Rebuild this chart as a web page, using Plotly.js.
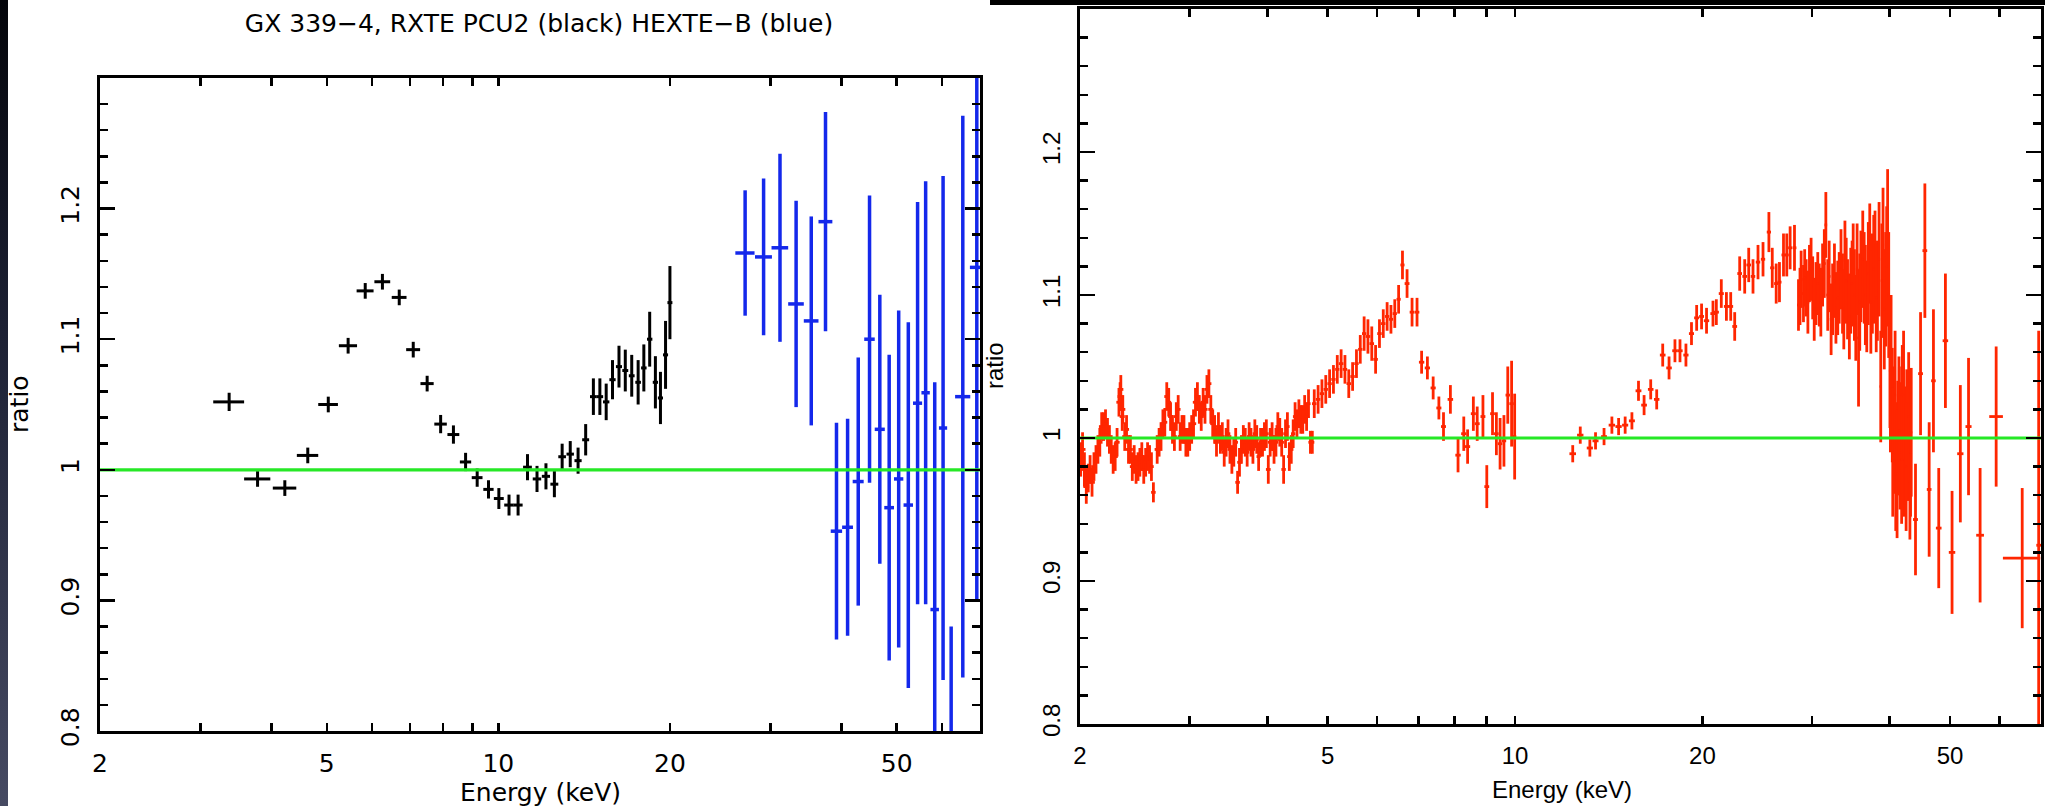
<!DOCTYPE html>
<html><head><meta charset="utf-8">
<script src="https://cdn.plot.ly/plotly-3.0.1.min.js"></script>
<style>
html,body{margin:0;padding:0;background:#fff;width:2045px;height:806px;overflow:hidden;position:relative}
#strip{position:absolute;left:0;top:0;width:8px;height:806px;background:linear-gradient(#04050a,#1c2033 40%,#464a62)}
#topbar{position:absolute;left:990px;top:0;width:1055px;height:5px;background:#000}
#chart{position:absolute;left:0;top:0;width:2045px;height:806px}
</style></head>
<body><div id="strip"></div><div id="topbar"></div><div id="chart"></div>
<script>
// ---- Left panel: RXTE PCU2 (black) ----
const pcuE = [3.37,3.78,4.22,4.63,5.03,5.45,5.84,6.26,6.70,7.09,
  7.50,7.92,8.34,8.76,9.18,9.61,10.02,10.44,10.83,11.25,
  11.69,12.12,12.54,12.94,13.37,13.80,14.23,14.68,15.07,15.46,
  15.86,16.28,16.70,17.14,17.59,18.00,18.43,18.86,19.25,19.65,
  20.00];
const pcuR = [1.052,0.993,0.986,1.011,1.050,1.095,1.137,1.144,1.132,1.092,
  1.066,1.035,1.027,1.006,0.994,0.985,0.978,0.973,0.973,1.002,
  0.993,0.995,0.989,1.010,1.012,1.007,1.023,1.056,1.056,1.052,
  1.069,1.079,1.076,1.072,1.067,1.078,1.100,1.067,1.055,1.088,
  1.128];
const pcuErr = [0.007,0.006,0.006,0.006,0.006,0.006,0.006,0.006,0.006,0.006,
  0.006,0.007,0.007,0.007,0.007,0.007,0.008,0.008,0.008,0.010,
  0.010,0.010,0.010,0.010,0.010,0.010,0.012,0.014,0.014,0.014,
  0.015,0.016,0.016,0.016,0.017,0.018,0.021,0.020,0.020,0.026,
  0.028];
const pcuXerr = [0.21,0.2,0.2,0.2,0.2,0.2,0.2,0.2,0.2,0.2,
  0.2,0.2,0.2,0.2,0.2,0.2,0.2,0.2,0.2,0.2,
  0.2,0.2,0.2,0.2,0.2,0.2,0.2,0.2,0.2,0.2,
  0.2,0.2,0.2,0.2,0.2,0.2,0.2,0.2,0.2,0.2,
  0.2];

// ---- Left panel: HEXTE-B (blue) ----
const hexE = [27.1,29.2,31.2,33.3,35.4,37.5,39.2,41.0,42.8,44.8,
  46.7,48.5,50.4,52.4,54.4,56.2,58.3,60.3,62.3,65.3,
  69.1];
const hexR = [1.166,1.163,1.170,1.127,1.114,1.190,0.953,0.956,0.991,1.100,
  1.031,0.971,0.993,0.973,1.051,1.059,0.893,1.032,0.690,1.056,
  1.155];
const hexErr = [0.048,0.060,0.072,0.079,0.080,0.084,0.083,0.083,0.095,0.110,
  0.103,0.117,0.129,0.140,0.154,0.162,0.174,0.193,0.190,0.215,
  0.254];
const hexXerr = [1.05,1.0,1.05,1.05,1.05,1.05,0.9,0.9,0.95,0.95,
  0.95,0.95,0.95,1.0,1.0,0.95,1.0,1.0,1.0,2.0,
  1.9];

// ---- Right panel (red), 2-10 keV ----
const redLoE = [2.005,2.019,2.033,2.047,2.062,2.076,2.091,2.106,2.122,2.137,
  2.152,2.167,2.183,2.198,2.214,2.230,2.245,2.261,2.278,2.294,
  2.310,2.320,2.326,2.338,2.343,2.360,2.376,2.393,2.410,2.427,
  2.444,2.461,2.479,2.496,2.514,2.532,2.550,2.568,2.587,2.605,
  2.624,2.661,2.680,2.699,2.718,2.737,2.757,2.777,2.796,2.816,
  2.836,2.856,2.876,2.897,2.917,2.938,2.959,2.980,3.001,3.023,
  3.044,3.066,3.088,3.110,3.132,3.154,3.176,3.199,3.222,3.245,
  3.268,3.291,3.314,3.338,3.362,3.386,3.410,3.434,3.458,3.483,
  3.508,3.533,3.558,3.583,3.608,3.634,3.660,3.686,3.712,3.739,
  3.765,3.792,3.819,3.846,3.873,3.901,3.929,3.957,3.985,4.014,
  4.042,4.071,4.100,4.129,4.158,4.188,4.218,4.248,4.278,4.308,
  4.339,4.370,4.401,4.432,4.463,4.495,4.527,4.560,4.592,4.625,
  4.658,4.691,4.724,4.758,4.826,4.895,4.965,5.036,5.108,5.181,
  5.255,5.330,5.406,5.483,5.562,5.641,5.722,5.803,5.886,5.970,
  6.056,6.142,6.230,6.319,6.409,6.501,6.594,6.707,6.832,6.959,
  7.078,7.231,7.387,7.545,7.675,7.873,8.099,8.273,8.391,8.571,
  8.694,8.881,9.008,9.201,9.333,9.462,9.598,9.735,9.874,9.986];
const redLoR = [0.985,0.992,0.978,0.966,0.972,0.978,0.969,0.980,0.985,0.992,
  0.997,1.008,1.008,1.010,1.004,0.999,0.992,0.985,0.987,0.997,
  1.025,1.029,1.034,1.015,1.020,1.001,1.006,0.992,0.992,0.980,
  0.985,0.978,0.980,0.983,0.987,0.978,0.983,0.987,0.985,0.980,
  0.962,0.992,0.997,1.001,1.010,1.011,1.029,1.025,1.015,1.006,
  1.001,1.015,1.020,1.001,1.006,1.006,0.997,0.997,1.001,1.006,
  1.010,1.025,1.029,1.020,1.015,1.025,1.020,1.034,1.038,1.020,
  1.010,1.006,0.997,1.008,0.999,1.001,0.990,0.997,1.003,0.992,
  0.985,0.990,0.997,0.969,0.983,0.992,0.999,0.997,0.990,1.001,
  0.997,0.992,1.003,0.999,0.987,0.997,0.997,1.001,1.003,0.978,
  0.997,1.001,0.992,0.997,1.008,1.004,0.997,0.978,1.003,1.008,
  0.987,0.992,1.003,1.015,1.010,1.017,1.013,1.013,1.020,1.015,
  1.024,0.997,0.997,1.024,1.027,1.031,1.034,1.038,1.041,1.048,
  1.052,1.048,1.038,1.043,1.052,1.062,1.073,1.071,1.066,1.055,
  1.073,1.080,1.085,1.083,1.087,1.097,1.121,1.108,1.088,1.088,
  1.053,1.049,1.035,1.021,1.008,1.027,0.988,1.003,0.994,1.017,
  1.010,1.015,0.966,1.017,1.003,0.996,0.998,1.030,1.024,1.001];
const redLoErr = [0.012,0.012,0.012,0.012,0.010,0.010,0.010,0.010,0.010,0.010,
  0.010,0.010,0.010,0.010,0.010,0.010,0.010,0.010,0.010,0.010,
  0.010,0.010,0.010,0.010,0.010,0.010,0.010,0.010,0.010,0.010,
  0.010,0.010,0.010,0.010,0.010,0.010,0.010,0.010,0.010,0.010,
  0.007,0.010,0.010,0.010,0.010,0.010,0.010,0.010,0.010,0.010,
  0.010,0.010,0.010,0.010,0.010,0.010,0.010,0.010,0.010,0.010,
  0.010,0.010,0.010,0.010,0.010,0.010,0.010,0.010,0.010,0.010,
  0.010,0.010,0.010,0.010,0.010,0.010,0.010,0.010,0.010,0.010,
  0.010,0.010,0.010,0.008,0.010,0.010,0.010,0.010,0.010,0.010,
  0.010,0.010,0.010,0.010,0.010,0.010,0.010,0.010,0.010,0.010,
  0.010,0.010,0.010,0.010,0.010,0.010,0.010,0.010,0.010,0.010,
  0.010,0.010,0.010,0.010,0.010,0.010,0.010,0.010,0.010,0.010,
  0.010,0.008,0.008,0.010,0.010,0.010,0.010,0.010,0.010,0.010,
  0.010,0.010,0.010,0.010,0.010,0.010,0.012,0.012,0.012,0.010,
  0.010,0.010,0.010,0.010,0.010,0.010,0.010,0.010,0.010,0.010,
  0.008,0.008,0.008,0.008,0.010,0.010,0.012,0.012,0.012,0.012,
  0.012,0.015,0.015,0.015,0.015,0.018,0.018,0.020,0.030,0.030];
const redLoXerr = [0.022,0.022,0.022,0.022,0.022,0.022,0.022,0.022,0.022,0.022,
  0.022,0.022,0.022,0.022,0.022,0.022,0.022,0.022,0.022,0.022,
  0.022,0.022,0.022,0.022,0.022,0.022,0.022,0.022,0.022,0.022,
  0.022,0.022,0.022,0.022,0.022,0.022,0.022,0.022,0.022,0.022,
  0.022,0.025,0.025,0.025,0.025,0.025,0.025,0.025,0.025,0.025,
  0.025,0.025,0.025,0.025,0.025,0.025,0.025,0.025,0.03,0.03,
  0.03,0.03,0.03,0.03,0.03,0.03,0.03,0.03,0.03,0.03,
  0.03,0.03,0.03,0.03,0.03,0.03,0.03,0.03,0.03,0.03,
  0.03,0.03,0.03,0.03,0.03,0.03,0.03,0.03,0.03,0.03,
  0.03,0.03,0.03,0.03,0.03,0.03,0.03,0.03,0.035,0.035,
  0.035,0.035,0.035,0.035,0.035,0.035,0.035,0.035,0.035,0.035,
  0.035,0.035,0.035,0.035,0.035,0.035,0.035,0.035,0.035,0.035,
  0.035,0.035,0.035,0.04,0.04,0.04,0.04,0.04,0.04,0.04,
  0.045,0.045,0.045,0.045,0.045,0.045,0.045,0.05,0.05,0.05,
  0.05,0.05,0.05,0.05,0.05,0.05,0.05,0.06,0.06,0.06,
  0.07,0.07,0.07,0.07,0.07,0.08,0.08,0.08,0.08,0.08,
  0.08,0.08,0.08,0.08,0.08,0.08,0.08,0.08,0.08,0.06];

// ---- Right panel (red), 12-70 keV ----
const redHiE = [12.38,12.73,13.19,13.47,13.90,14.31,14.67,15.03,15.41,15.79,
  16.12,16.52,16.89,17.27,17.68,18.07,18.41,18.82,19.21,19.58,
  19.94,20.31,20.80,21.06,21.45,21.86,22.21,22.54,22.96,23.39,
  23.74,24.12,24.57,25.03,25.58,25.90,26.28,26.60,27.00,27.33,
  27.67,28.12,28.54,28.82,29.07,29.36,29.72,30.08,30.45,30.82,
  31.20,31.58,31.97,32.38,32.78,33.18,33.59,33.89,34.22,34.63,
  34.94,35.28,35.64,35.95,36.39,36.74,37.15,37.51,37.88,38.22,
  38.69,39.02,39.40,39.69,40.03,40.2,40.38,40.55,40.73,40.9,
  41.02,41.2,41.38,41.55,41.74,41.9,42.05,42.2,42.41,42.6,
  42.78,43.10,43.31,44.00,44.83,45.55,46.28,47.02,47.95,49.15,
  50.37,51.94,53.54,55.88,59.3,65.3,69.4];
const redHiR = [0.989,1.002,0.993,0.998,1.001,1.009,1.008,1.009,1.012,1.033,
  1.023,1.034,1.027,1.058,1.049,1.061,1.061,1.058,1.073,1.084,
  1.085,1.082,1.087,1.088,1.101,1.092,1.092,1.078,1.115,1.113,
  1.121,1.113,1.123,1.125,1.144,1.119,1.108,1.109,1.128,1.128,
  1.133,1.133,1.093,1.111,1.101,1.105,1.115,1.105,1.101,1.100,
  1.114,1.149,1.113,1.097,1.091,1.105,1.101,1.124,1.097,1.103,
  1.120,1.084,1.070,1.113,1.112,1.092,1.129,1.108,1.124,1.103,
  1.036,1.135,1.104,1.141,1.047,1.060,1.023,1.010,1.001,0.975,
  0.985,1.000,1.017,0.990,0.999,1.025,1.012,0.985,0.996,1.008,
  0.996,0.969,1.004,0.943,1.045,1.131,0.964,1.040,0.937,1.068,
  0.920,0.989,1.008,0.932,1.015,0.916,0.925];
const redHiErr = [0.006,0.006,0.006,0.006,0.006,0.006,0.006,0.006,0.006,0.007,
  0.007,0.007,0.007,0.008,0.008,0.008,0.008,0.008,0.008,0.009,
  0.009,0.009,0.009,0.009,0.010,0.010,0.010,0.010,0.012,0.012,
  0.012,0.012,0.012,0.012,0.014,0.014,0.014,0.014,0.015,0.015,
  0.015,0.016,0.018,0.020,0.020,0.020,0.020,0.022,0.022,0.022,
  0.022,0.023,0.025,0.025,0.025,0.025,0.028,0.028,0.028,0.030,
  0.030,0.030,0.048,0.032,0.032,0.032,0.035,0.035,0.035,0.035,
  0.039,0.040,0.040,0.047,0.040,0.040,0.040,0.040,0.040,0.040,
  0.040,0.040,0.040,0.040,0.040,0.040,0.040,0.040,0.040,0.040,
  0.040,0.040,0.045,0.039,0.043,0.047,0.047,0.050,0.042,0.047,
  0.043,0.048,0.048,0.047,0.049,0.049,0.150];
const redHiXerr = [0.15,0.15,0.15,0.15,0.15,0.17,0.17,0.17,0.17,0.17,
  0.17,0.17,0.17,0.18,0.18,0.18,0.18,0.18,0.18,0.18,
  0.18,0.2,0.2,0.2,0.2,0.2,0.2,0.2,0.2,0.2,
  0.2,0.2,0.2,0.2,0.2,0.2,0.2,0.2,0.2,0.2,
  0.2,0.2,0.15,0.15,0.15,0.15,0.15,0.15,0.15,0.15,
  0.15,0.15,0.15,0.15,0.15,0.15,0.15,0.15,0.15,0.15,
  0.15,0.15,0.15,0.15,0.15,0.15,0.15,0.15,0.15,0.15,
  0.15,0.15,0.15,0.15,0.15,0.15,0.15,0.15,0.15,0.15,
  0.15,0.15,0.15,0.15,0.15,0.15,0.15,0.15,0.15,0.15,
  0.15,0.15,0.15,0.4,0.4,0.4,0.4,0.4,0.5,0.5,
  0.6,0.6,0.6,0.8,1.5,4.5,0.6];

// ---- Right panel (red), dense 28-43 keV bins ----
const redMidE = [28.7,29.2,29.55,29.9,30.25,30.65,31.0,31.4,31.8,32.2,
  32.6,33.0,33.4,33.75,34.05,34.45,34.8,35.1,35.45,35.8,
  36.2,36.55,36.95,37.3,37.7,38.05,38.45,38.85,39.2,39.55,
  39.85,40.1,40.45,40.8,41.1,41.45,41.8,42.1,42.5,42.9,
  43.2];
const redMidR = [1.099,1.112,1.095,1.118,1.090,1.108,1.095,1.122,1.100,1.083,
  1.110,1.098,1.118,1.090,1.110,1.085,1.108,1.100,1.118,1.095,
  1.125,1.100,1.115,1.095,1.118,1.098,1.125,1.110,1.090,1.120,
  1.100,1.035,0.990,1.030,0.975,1.005,0.985,1.030,0.980,1.015,
  0.990];
const redMidErr = [0.020,0.020,0.022,0.022,0.022,0.022,0.024,0.024,0.025,0.025,
  0.026,0.026,0.028,0.028,0.030,0.030,0.030,0.032,0.032,0.034,
  0.034,0.035,0.036,0.036,0.038,0.038,0.040,0.040,0.042,0.042,
  0.044,0.045,0.045,0.045,0.045,0.045,0.045,0.045,0.045,0.045,
  0.045];
const redMidXerr = [0.15,0.15,0.15,0.15,0.15,0.15,0.15,0.15,0.15,0.15,
  0.15,0.15,0.15,0.15,0.15,0.15,0.15,0.15,0.15,0.15,
  0.15,0.15,0.15,0.15,0.15,0.15,0.15,0.15,0.15,0.15,
  0.15,0.15,0.15,0.15,0.15,0.15,0.15,0.15,0.15,0.15,
  0.15];

// model line (ratio = 1)
const modelE = [2, 70];
const modelR = [1, 1];

// axis ticks / labels
const xTickVals = [2,3,4,5,6,7,8,9,10,20,30,40,50,60];
const xTickText = ['2','','','5','','','','','10','20','','','50',''];
const yTickVals = [0.8,0.9,1.0,1.1,1.2];
const yTickText = ['0.8','0.9','1','1.1','1.2'];
const xRange = [2, 70];
const yRange = [0.8, 1.3];

const W = 2045, H = 806;
const fx = p => p / W, fy = p => 1 - p / H;
const LF = 'DejaVu Sans, sans-serif';
const RF = 'Liberation Sans, Arial, sans-serif';

function errTrace(x, y, ey, ex, color, th, xa, ya) {
  return {x, y, type:'scatter', mode:'markers', xaxis:xa, yaxis:ya,
    marker:{size:2, color},
    error_y:{type:'data', array:ey, visible:true, color, thickness:th, width:0},
    error_x:{type:'data', array:ex, visible:true, color, thickness:th, width:0},
    hoverinfo:'skip', showlegend:false};
}
const green = 'rgb(38,232,38)';
const red = 'rgb(255,38,0)';
const traces = [
  errTrace(pcuE, pcuR, pcuErr, pcuXerr, '#000000', 3, 'x', 'y'),
  errTrace(hexE, hexR, hexErr, hexXerr, 'rgb(20,40,235)', 3.5, 'x', 'y'),
  {x:modelE, y:modelR, type:'scatter', mode:'lines', xaxis:'x', yaxis:'y', line:{color:green, width:3.2}, showlegend:false},
  errTrace(redLoE, redLoR, redLoErr, redLoXerr, red, 2.8, 'x2', 'y2'),
  errTrace(redHiE, redHiR, redHiErr, redHiXerr, red, 2.8, 'x2', 'y2'),
  errTrace(redMidE, redMidR, redMidErr, redMidXerr, red, 2.8, 'x2', 'y2'),
  {x:modelE, y:modelR, type:'scatter', mode:'lines', xaxis:'x2', yaxis:'y2', line:{color:green, width:3.2}, showlegend:false}
];

function xAxis(dom, anchor, fam, size) {
  return {type:'log', range:xRange.map(Math.log10), domain:dom, anchor,
    showline:true, linecolor:'#000', linewidth:2.8, mirror:'allticks',
    ticks:'inside', ticklen:8, tickwidth:2.5, tickcolor:'#000',
    tickmode:'array', tickvals:xTickVals, ticktext:xTickText,
    tickfont:{family:fam, size, color:'#000'}, ticklabelstandoff:8,
    showgrid:false, zeroline:false, fixedrange:true};
}
function xMajor(over, dom, anchor) {
  return {type:'log', range:xRange.map(Math.log10), domain:dom, anchor, overlaying:over,
    showline:false, mirror:'allticks', ticks:'inside', ticklen:15, tickwidth:2.5, tickcolor:'#000',
    tickmode:'array', tickvals:[10], showticklabels:false, showgrid:false, zeroline:false};
}
function yAxis(dom, anchor, fam, size) {
  return {range:yRange, domain:dom, anchor,
    showline:true, linecolor:'#000', linewidth:2.8, mirror:'allticks',
    ticks:'inside', ticklen:15, tickwidth:2.5, tickcolor:'#000',
    tickmode:'array', tickvals:yTickVals, ticktext:yTickText, tickangle:-90,
    minor:{tickmode:'linear', tick0:0.8, dtick:0.02, ticks:'inside', ticklen:8, tickwidth:2.5, tickcolor:'#000', showgrid:false},
    tickfont:{family:fam, size, color:'#000'}, ticklabelstandoff:8,
    showgrid:false, zeroline:false, fixedrange:true};
}
const LX = [fx(100), fx(980)], LY = [fy(731), fy(78)];
const RX = [fx(1080), fx(2041)], RY = [fy(724), fy(9)];

const layout = {
  width:W, height:H, autosize:false, margin:{l:0,r:0,t:0,b:0},
  paper_bgcolor:'rgba(0,0,0,0)', plot_bgcolor:'#ffffff', showlegend:false,
  title:{text:'GX 339\u22124, RXTE PCU2 (black) HEXTE\u2212B (blue)', x:fx(539), xanchor:'center', xref:'paper', y:fy(23), yanchor:'middle', yref:'container', font:{family:LF, size:25, color:'#000'}},
  xaxis:xAxis(LX, 'y', LF, 25),
  yaxis:yAxis(LY, 'x', LF, 25),
  xaxis3:xMajor('x', LX, 'y'),
  xaxis2:xAxis(RX, 'y2', RF, 24),
  yaxis2:yAxis(RY, 'x2', RF, 24),
  xaxis4:xMajor('x2', RX, 'y2'),
  annotations:[
    {text:'ratio', xref:'paper', yref:'paper', x:fx(20), y:fy(404), textangle:-90, showarrow:false, xanchor:'center', yanchor:'middle', font:{family:LF, size:25, color:'#000'}},
    {text:'Energy (keV)', xref:'paper', yref:'paper', x:fx(540), y:fy(792), showarrow:false, xanchor:'center', yanchor:'middle', font:{family:LF, size:25, color:'#000'}},
    {text:'ratio', xref:'paper', yref:'paper', x:fx(995), y:fy(366), textangle:-90, showarrow:false, xanchor:'center', yanchor:'middle', font:{family:RF, size:24, color:'#000'}},
    {text:'Energy (keV)', xref:'paper', yref:'paper', x:fx(1562), y:fy(789), showarrow:false, xanchor:'center', yanchor:'middle', font:{family:RF, size:24, color:'#000'}}
  ]
};
Plotly.newPlot('chart', traces, layout, {staticPlot:true, displayModeBar:false});
</script></body></html>
